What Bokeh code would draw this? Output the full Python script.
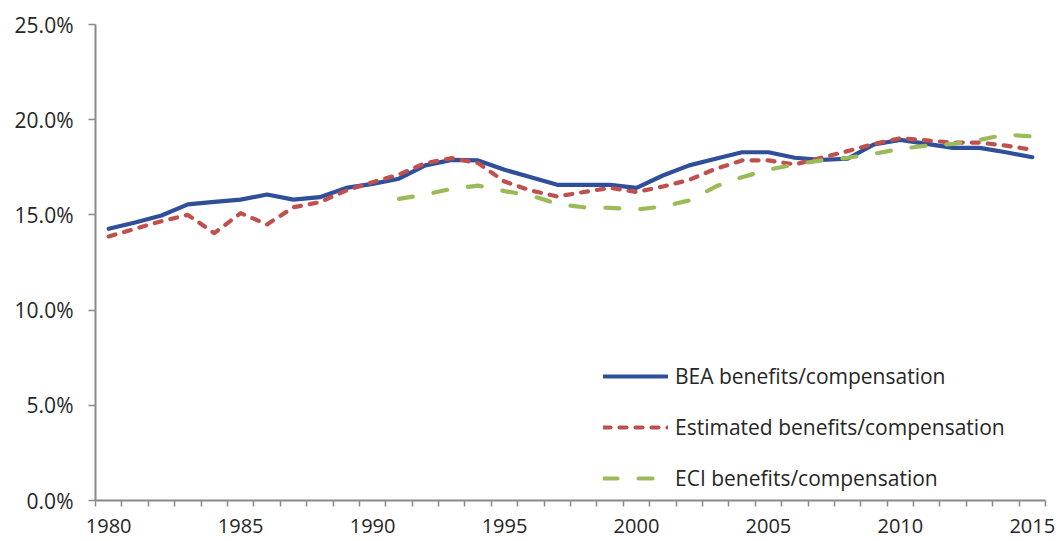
from bokeh.plotting import figure
from bokeh.models import (ColumnDataSource, Range1d, FixedTicker,
                          Legend, LegendItem, CustomJSTickFormatter)
from bokeh.embed import file_html
from bokeh.resources import INLINE

years = list(range(1980, 2016))
bea = [14.27, 14.6, 14.97, 15.55, 15.68, 15.8, 16.07, 15.8, 15.93, 16.42,
       16.63, 16.9, 17.6, 17.89, 17.86, 17.37, 16.98, 16.58, 16.58, 16.58,
       16.42, 17.07, 17.6, 17.95, 18.29, 18.29, 18.0, 17.89, 17.95, 18.7,
       18.94, 18.73, 18.52, 18.52, 18.29, 18.03]
est = [13.87, 14.27, 14.67, 15.0, 14.04, 15.09, 14.5, 15.4, 15.67, 16.28,
       16.72, 17.12, 17.72, 17.98, 17.72, 16.75, 16.28, 15.97, 16.2, 16.42,
       16.2, 16.49, 16.84, 17.42, 17.86, 17.86, 17.65, 18.0, 18.35, 18.73,
       19.03, 18.91, 18.8, 18.8, 18.64, 18.42]
eci_years = list(range(1991, 2016))
eci = [15.84, 16.07, 16.37, 16.54, 16.25, 16.02, 15.58, 15.4, 15.37, 15.28,
       15.44, 15.76, 16.49, 16.98, 17.37, 17.65, 17.86, 18.0, 18.21, 18.47,
       18.64, 18.73, 18.94, 19.22, 19.12]
y_ticks = [0, 5, 10, 15, 20, 25]
x_label_years = [1980, 1985, 1990, 1995, 2000, 2005, 2010, 2015]
labels = ["BEA benefits/compensation", "Estimated benefits/compensation",
          "ECI benefits/compensation"]

FONT = "Open Sans"
TXT = "#262626"
GRAY = "#8a8a8a"

p = figure(width=1059, height=541, output_backend="svg", toolbar_location=None,
           x_range=Range1d(1979.5, 2015.5), y_range=Range1d(0, 25),
           min_border_left=95, min_border_right=14, min_border_top=24,
           min_border_bottom=41)
p.outline_line_color = None
p.xgrid.visible = False
p.ygrid.visible = False
p.background_fill_color = "white"
p.border_fill_color = "white"

src = ColumnDataSource(dict(year=years, bea=bea, est=est))
src2 = ColumnDataSource(dict(year=eci_years, eci=eci))

r_bea = p.line("year", "bea", source=src, line_color="#2f4f9b", line_width=4.2,
               line_join="round", line_cap="round")
r_est = p.line("year", "est", source=src, line_color="#c0504d", line_width=4.2,
               line_dash="7 9", line_cap="round", line_join="round")
r_eci = p.line("year", "eci", source=src2, line_color="#9bbb59", line_width=4.2,
               line_dash="14 21", line_cap="round", line_join="round")

# x axis
xa = p.xaxis[0]
xa.ticker = FixedTicker(ticks=x_label_years,
                        minor_ticks=[1979.5 + i for i in range(37)])
xa.major_tick_out = 0
xa.major_tick_in = 0
xa.minor_tick_out = 6
xa.minor_tick_in = 0
xa.minor_tick_line_color = GRAY
xa.minor_tick_line_width = 1.5
xa.axis_line_color = GRAY
xa.axis_line_width = 2
xa.major_label_text_font = FONT
xa.major_label_text_font_size = "20px"
xa.major_label_text_color = TXT
xa.major_label_standoff = 12

# y axis
ya = p.yaxis[0]
ya.ticker = FixedTicker(ticks=y_ticks, minor_ticks=[])
ya.formatter = CustomJSTickFormatter(code="return tick.toFixed(1) + '%';")
ya.major_tick_out = 7
ya.major_tick_in = 0
ya.major_tick_line_color = GRAY
ya.major_tick_line_width = 1.5
ya.axis_line_color = GRAY
ya.axis_line_width = 2
ya.major_label_text_font = FONT
ya.major_label_text_font_size = "21px"
ya.major_label_text_color = TXT
ya.major_label_standoff = 15

legend = Legend(items=[LegendItem(label=labels[0], renderers=[r_bea]),
                       LegendItem(label=labels[1], renderers=[r_est]),
                       LegendItem(label=labels[2], renderers=[r_eci])],
                location=(508, 7), orientation="vertical",
                glyph_width=65, glyph_height=30, spacing=21,
                label_standoff=7, padding=0, margin=0,
                label_text_font=FONT, label_text_font_size="21px",
                label_text_color=TXT,
                background_fill_alpha=0, border_line_color=None)
p.add_layout(legend, "center")

open("out.html", "w").write(file_html(p, INLINE))
